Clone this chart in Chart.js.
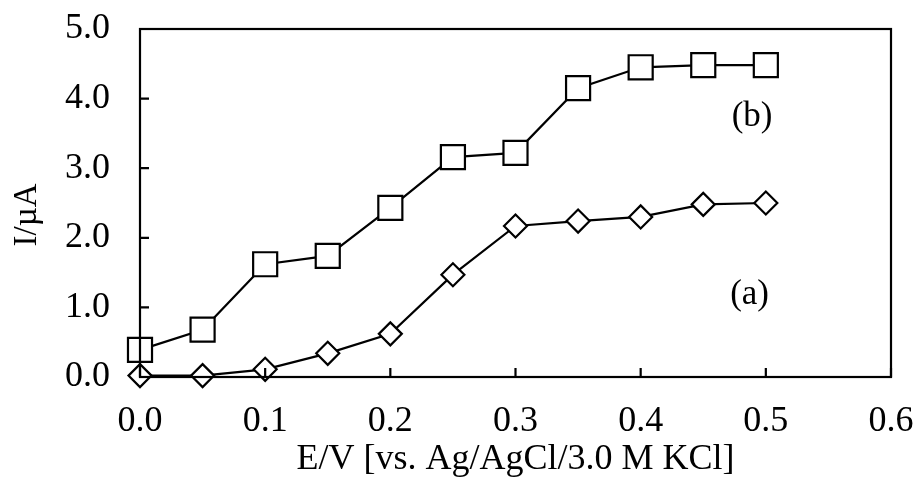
<!DOCTYPE html>
<html><head><meta charset="utf-8">
<script src="https://cdn.jsdelivr.net/npm/chart.js@4/dist/chart.umd.min.js"></script>
<style>html,body{margin:0;padding:0;background:#fff;}#wrap{width:913px;height:490px;}</style>
</head><body><div id="wrap"><canvas id="c" width="913" height="490"></canvas></div>
<script>
const potentials = [0.0, 0.05, 0.1, 0.15, 0.2, 0.25, 0.3, 0.35, 0.4, 0.45, 0.5];
const currentA = [0.02, 0.02, 0.11, 0.34, 0.62, 1.47, 2.17, 2.24, 2.30, 2.48, 2.50];
const currentB = [0.39, 0.68, 1.62, 1.74, 2.43, 3.16, 3.22, 4.15, 4.45, 4.48, 4.48];
const xTicks = [0.0, 0.1, 0.2, 0.3, 0.4, 0.5, 0.6];
const yTicks = [0.0, 1.0, 2.0, 3.0, 4.0, 5.0];
const seriesLabels = [{text:'(a)', x:0.487, y:1.18}, {text:'(b)', x:0.489, y:3.74}];
const xTitle = 'E/V [vs. Ag/AgCl/3.0 M KCl]';
const yTitle = 'I/µA';

const FONT = '"Liberation Serif", "Times New Roman", serif';

const framePlugin = {
  id: 'frame',
  afterDraw(chart) {
    const ctx = chart.ctx, a = chart.chartArea;
    const xs = chart.scales.x, ys = chart.scales.y;
    ctx.save();
    ctx.strokeStyle = '#000';
    ctx.lineWidth = 2.2;
    ctx.strokeRect(a.left, a.top, a.right - a.left, a.bottom - a.top);
    ctx.beginPath();
    xTicks.forEach(v => { const px = xs.getPixelForValue(v); ctx.moveTo(px, a.bottom); ctx.lineTo(px, a.bottom - 9); });
    yTicks.forEach(v => { const py = ys.getPixelForValue(v); ctx.moveTo(a.left, py); ctx.lineTo(a.left + 9, py); });
    ctx.stroke();
    ctx.fillStyle = '#000';
    ctx.font = '35px ' + FONT;
    ctx.textAlign = 'center';
    ctx.textBaseline = 'middle';
    seriesLabels.forEach(l => ctx.fillText(l.text, xs.getPixelForValue(l.x), ys.getPixelForValue(l.y)));
    ctx.translate(27.5, 215);
    ctx.rotate(-Math.PI / 2);
    ctx.font = '33px ' + FONT;
    ctx.fillText(yTitle, 0, 0);
    ctx.restore();
  }
};

new Chart(document.getElementById('c'), {
  type: 'scatter',
  data: {
    datasets: [
      { label: '(a)', data: potentials.map((x, i) => ({x, y: currentA[i]})), showLine: true,
        borderColor: '#000', borderWidth: 2.2, pointStyle: 'rectRot', pointRadius: 11.5,
        pointBackgroundColor: '#fff', pointBorderColor: '#000', pointBorderWidth: 2.2 },
      { label: '(b)', data: potentials.map((x, i) => ({x, y: currentB[i]})), showLine: true,
        borderColor: '#000', borderWidth: 2.2, pointStyle: 'rect', pointRadius: 17,
        pointBackgroundColor: '#fff', pointBorderColor: '#000', pointBorderWidth: 2.2 }
    ]
  },
  options: {
    responsive: false, animation: false, clip: false,
    layout: { padding: { top: 29, right: 22, left: 0, bottom: 0 } },
    plugins: { legend: { display: false }, tooltip: { enabled: false } },
    scales: {
      x: {
        type: 'linear', min: 0, max: 0.6,
        afterBuildTicks(s) { s.ticks = xTicks.map(v => ({value: v})); },
        afterFit(s) { s.height = 113; s.paddingLeft = 0; s.paddingRight = 0; },
        grid: { display: false, drawTicks: false },
        border: { display: false },
        ticks: { color: '#000', font: { family: FONT, size: 36 }, padding: 23, maxRotation: 0,
          callback: v => v.toFixed(1) },
        title: { display: true, text: xTitle, color: '#000',
          font: { family: FONT, size: 36 }, padding: { top: 0, bottom: 9 } }
      },
      y: {
        type: 'linear', min: 0, max: 5,
        afterBuildTicks(s) { s.ticks = yTicks.map(v => ({value: v})); },
        afterFit(s) { s.width = 140; s.paddingTop = 0; s.paddingBottom = 0; },
        grid: { display: false, drawTicks: false },
        border: { display: false },
        ticks: { color: '#000', font: { family: FONT, size: 36 }, padding: 30,
          callback: v => v.toFixed(1) },
        title: { display: false }
      }
    }
  },
  plugins: [framePlugin]
});
</script></body></html>
